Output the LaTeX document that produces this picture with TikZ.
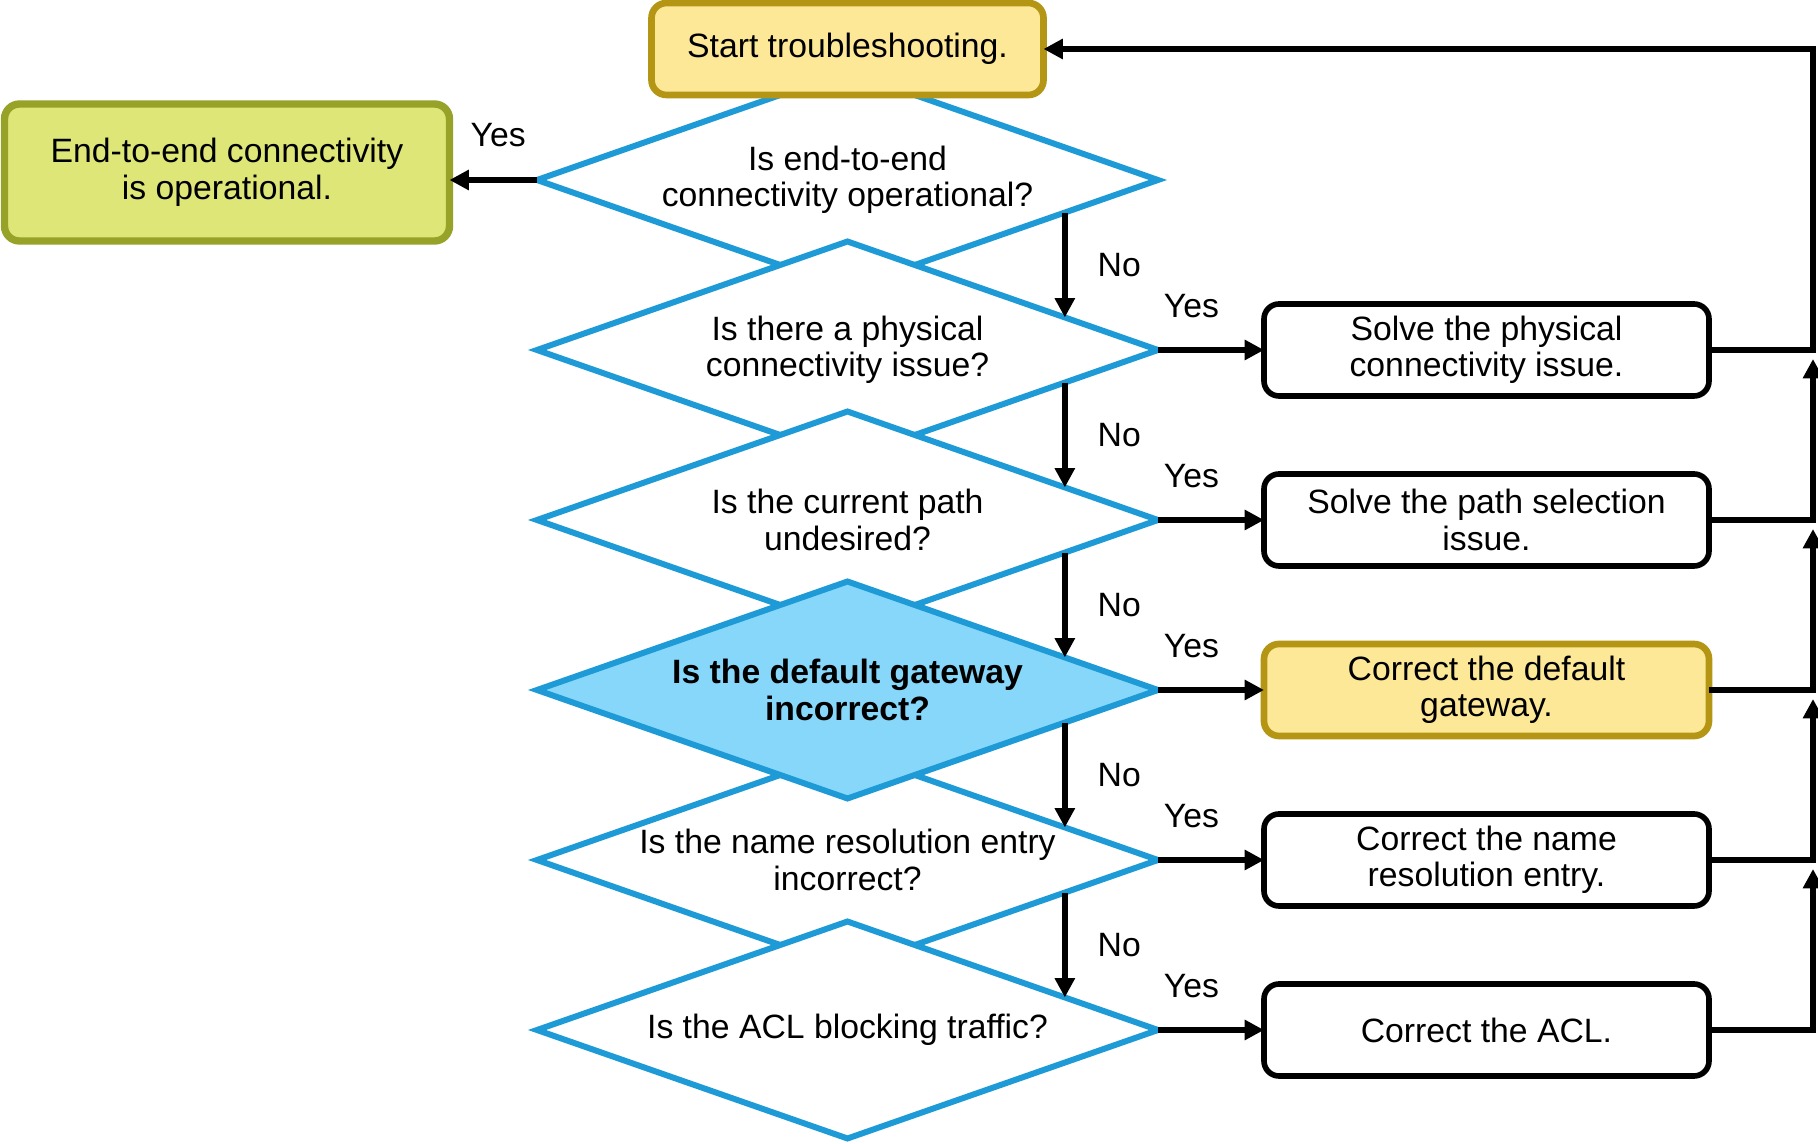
\documentclass[tikz,border=0pt]{standalone}
\usepackage{fontspec}
\setmainfont{Liberation Sans}
\usepackage{tikz}
\usetikzlibrary{shapes.geometric,arrows.meta,calc}

\definecolor{qblue}{RGB}{30,155,215}
\definecolor{qfill}{RGB}{135,215,250}
\definecolor{startfill}{RGB}{252,232,150}
\definecolor{startline}{RGB}{180,150,20}
\definecolor{endfill}{RGB}{222,230,120}
\definecolor{endline}{RGB}{150,162,40}

\tikzset{
  question/.style={diamond,draw=qblue,line width=1.7pt,fill=white,minimum width=6.21cm,
    minimum height=2.17cm,aspect=2.86,inner sep=0pt,outer sep=0pt,align=center},
  act/.style={rectangle,rounded corners=0.15cm,draw=black,line width=1.6pt,fill=white,
    minimum width=4.45cm,minimum height=0.92cm,inner sep=0pt,outer sep=0pt,align=center},
  acthl/.style={act,draw=startline,fill=startfill,line width=1.9pt},
  flow/.style={line width=1.6pt,-{Triangle[length=5.5pt,width=5.5pt]}},
  yeslbl/.style={pos=0,anchor=south west,inner sep=0pt,yshift=0.29cm,xshift=0.03cm},
  nolbl/.style={midway,anchor=west,inner sep=0pt,xshift=0.3cm}
}

\begin{document}
\begin{tikzpicture}[font=\fontsize{9.6}{10.4}\selectfont]
\useasboundingbox (0,0) rectangle (18.18,-11.44);
\coordinate (rail) at (18.13,0);
% Perguntas
\foreach \i/\t in {1/{Is end-to-end\\ connectivity operational?},
                   2/{Is there a physical\\ connectivity issue?},
                   3/{Is the current path\\ undesired?},
                   5/{Is the name resolution entry\\ incorrect?},
                   6/{Is the ACL blocking traffic?}}
    \node[question] (d\i) at (8.475,{-1.8-1.7*(\i-1)}) {\t};
\node[question,fill=qfill,font=\fontsize{9.6}{10.4}\selectfont\bfseries] (d4) at (8.475,-6.9)
    {Is the default gateway\\ incorrect?};
% Início e fim
\node[act,draw=startline,fill=startfill,line width=1.9pt,minimum width=3.92cm] (start) at (8.475,-0.49)
    {Start troubleshooting.};
\node[act,draw=endline,fill=endfill,line width=2.1pt,minimum height=1.37cm] (done) at (2.27,-1.725)
    {End-to-end connectivity\\ is operational.};
% Ações
\foreach \i/\t/\s in {2/{Solve the physical\\ connectivity issue.}/act,
                      3/{Solve the path selection\\ issue.}/act,
                      4/{Correct the default\\ gateway.}/acthl,
                      5/{Correct the name\\ resolution entry.}/act,
                      6/{Correct the ACL.}/act}
    \node[\s] (a\i) at (14.865,{-1.8-1.7*(\i-1)}) {\t};
% Sim
\draw[flow] (d1.west) -- node[midway,anchor=south,inner sep=0pt,yshift=0.3cm,xshift=0.05cm] {Yes}
    (d1.west -| done.east);
\foreach \i in {2,...,6}
    \draw[flow] (d\i.east) -- node[yeslbl] {Yes} (a\i.west);
% Não
\foreach \i/\j in {1/2,2/3,3/4,4/5,5/6}
    \draw[flow] ($(d\i.east)!0.3!(d\i.south)$) -- node[nolbl] {No} ($(d\j.east)!0.3!(d\j.north)$);
% Retorno
\foreach \i/\j in {2/3,3/4,4/5,5/6}
    \draw[flow] (a\j.east) -| ([yshift=-0.09cm]a\i.east -| rail);
\draw[flow] (a2.east) -| (start.east -| rail) -- (start.east);
\end{tikzpicture}
\end{document}
